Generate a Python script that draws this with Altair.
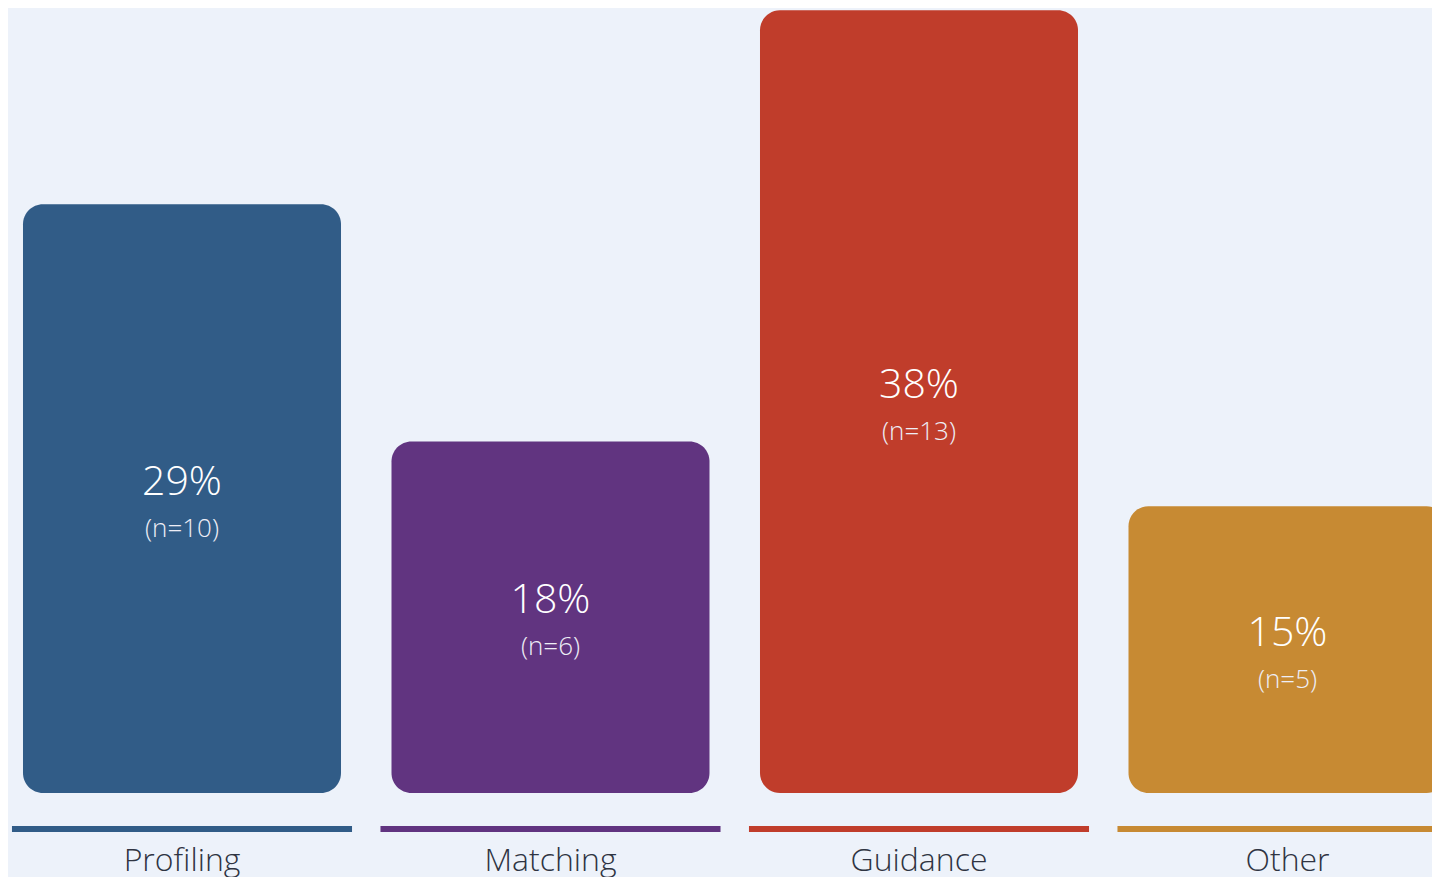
import altair as alt
import pandas as pd

categories = ["Profiling", "Matching", "Guidance", "Other"]
percents = [29, 18, 38, 15]
counts = [10, 6, 13, 5]
colors = ["#315C87", "#613480", "#C03D2B", "#C78A33"]

BASE = 1.7  # value where the bars start
TOP = 38.1

df = pd.DataFrame({
    "cat": categories,
    "pct": percents,
    "n": counts,
    "idx": list(range(len(categories))),
})
df["pct_label"] = df["pct"].astype(str) + "%"
df["n_label"] = "(n=" + df["n"].astype(str) + ")"

W, H = 1424, 785
step = 368.5
x0 = -174 / step
x1 = x0 + W / step

xs = alt.Scale(domain=[x0, x1], nice=False, zero=False)
ys = alt.Scale(domain=[BASE, TOP], nice=False, zero=False)
col = alt.Color("cat:N", scale=alt.Scale(domain=categories, range=colors), legend=None)

base = alt.Chart(df).transform_calculate(
    xa="datum.idx - 0.4315",
    xb="datum.idx + 0.4315",
    ua="datum.idx - 0.4614",
    ub="datum.idx + 0.4614",
    mid="(datum.pct + %f) / 2" % BASE,
    base="%f" % BASE,
)

bars = base.mark_bar(cornerRadius=20, clip=True).encode(
    x=alt.X("xa:Q", scale=xs, axis=None),
    x2="xb:Q",
    y=alt.Y("pct:Q", scale=ys, axis=None),
    y2="base:Q",
    color=col,
)

underline = base.mark_rect().encode(
    x=alt.X("ua:Q", scale=xs, axis=None),
    x2="ub:Q",
    y=alt.value(818),
    y2=alt.value(824),
    color=col,
)

pct_text = base.mark_text(
    font="Open Sans", fontSize=41, fontWeight=300, color="white", baseline="middle", dy=-16
).encode(
    x=alt.X("idx:Q", scale=xs, axis=None),
    y=alt.Y("mid:Q", scale=ys, axis=None),
    text="pct_label:N",
)

n_text = base.mark_text(
    font="Open Sans", fontSize=26, fontWeight=300, color="#EEEEF6", baseline="middle", dy=30
).encode(
    x=alt.X("idx:Q", scale=xs, axis=None),
    y=alt.Y("mid:Q", scale=ys, axis=None),
    text="n_label:N",
)

cat_text = base.mark_text(
    font="Open Sans", fontSize=32, fontWeight=300, color="#2F3442", baseline="alphabetic"
).encode(
    x=alt.X("idx:Q", scale=xs, axis=None),
    y=alt.value(863),
    text="cat:N",
)

chart = alt.layer(bars, underline, pct_text, n_text, cat_text).properties(
    width=W,
    height=H,
    autosize=alt.AutoSizeParams(type="none"),
    padding={"left": 0, "top": 0, "right": 0, "bottom": 84},
    background="#EDF2FA",
).configure_view(stroke=None)

chart.save("out.html", embed_options={"renderer": "svg", "actions": False})
